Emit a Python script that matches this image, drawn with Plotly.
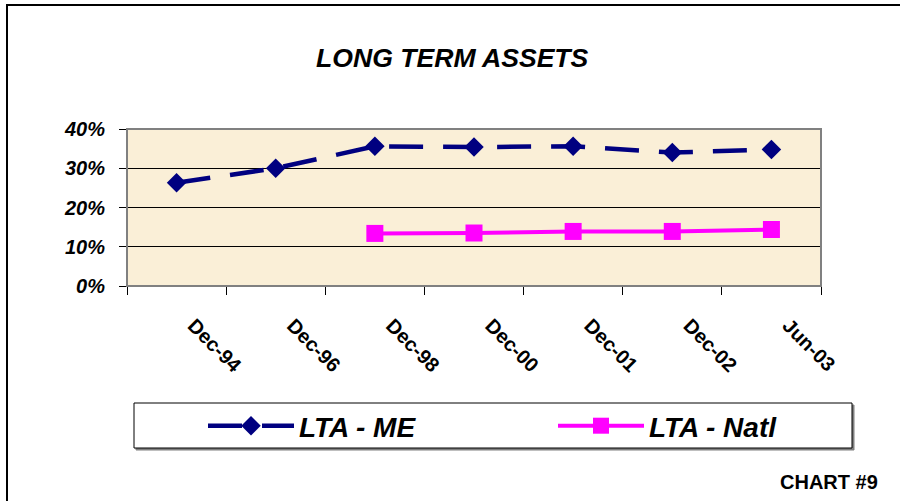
import plotly.graph_objects as go

categories = ["Dec-94", "Dec-96", "Dec-98", "Dec-00", "Dec-01", "Dec-02", "Jun-03"]
lta_me = [0.263, 0.300, 0.356, 0.354, 0.356, 0.340, 0.348]
lta_natl = [None, None, 0.134, 0.135, 0.139, 0.139, 0.144]
y_ticks = [0, 0.1, 0.2, 0.3, 0.4]

W, H = 900, 501
L, R, T, B = 127, 821, 129, 286  # plot area pixel box
pw, ph = R - L, B - T

def px(x):
    return (x - L) / pw

def py(y):
    return (B - y) / ph

FONT = "Liberation Sans, Arial, sans-serif"
LEG_FONT = dict(family=FONT, size=28, color="#000000", weight="bold", style="italic")

fig = go.Figure()
fig.add_trace(go.Scatter(
    x=categories, y=lta_me, name="LTA - ME", mode="lines+markers",
    line=dict(color="#000080", width=4.5, dash="34px,20px"),
    marker=dict(symbol="diamond", size=15, color="#000080", line=dict(width=0)),
    legend="legend",
))
fig.add_trace(go.Scatter(
    x=categories, y=lta_natl, name="LTA - Natl", mode="lines+markers",
    line=dict(color="#FF00FF", width=4),
    marker=dict(symbol="square", size=17, color="#FF00FF", line=dict(width=0)),
    legend="legend2",
))

shapes = [
    # outer frame
    dict(type="rect", xref="paper", yref="paper", x0=px(7), y0=py(5), x1=px(910), y1=py(520),
         line=dict(color="#000000", width=2), layer="below"),
    # plot area border
    dict(type="rect", xref="paper", yref="paper", x0=0, y0=0, x1=1, y1=1,
         line=dict(color="#808080", width=2), layer="above"),
    # legend box shadow
    dict(type="rect", xref="paper", yref="paper", x0=px(136), y0=py(405), x1=px(854), y1=py(450),
         line=dict(color="#808080", width=1), fillcolor="#808080", layer="below"),
    # legend box
    dict(type="rect", xref="paper", yref="paper", x0=px(134), y0=py(403), x1=px(852), y1=py(448),
         line=dict(color="#000000", width=1), fillcolor="#FFFFFF", layer="below"),
]

annotations = [
    dict(text="LONG TERM ASSETS", xref="paper", yref="paper", x=px(452.5), y=py(58),
         xanchor="center", yanchor="middle", showarrow=False,
         font=dict(family=FONT, size=26.6, color="#000000", weight="bold", style="italic")),
    dict(text="CHART #9", xref="paper", yref="paper", x=px(829), y=py(482),
         xanchor="center", yanchor="middle", showarrow=False,
         font=dict(family=FONT, size=20, color="#000000", weight="bold")),
]

fig.update_layout(
    width=W, height=H,
    margin=dict(l=L, r=W - R, t=T, b=H - B, pad=0),
    paper_bgcolor="#FFFFFF",
    plot_bgcolor="#FAEFD7",
    shapes=shapes,
    annotations=annotations,
    showlegend=True,
    legend=dict(
        orientation="h", x=px(203), y=py(426), xanchor="left", yanchor="middle",
        bgcolor="rgba(0,0,0,0)", borderwidth=0, itemwidth=86, font=LEG_FONT,
    ),
    legend2=dict(
        orientation="h", x=px(553), y=py(426), xanchor="left", yanchor="middle",
        bgcolor="rgba(0,0,0,0)", borderwidth=0, itemwidth=86, font=LEG_FONT,
    ),
    xaxis=dict(
        type="category", categoryorder="array", categoryarray=categories,
        range=[-0.5, len(categories) - 0.5],
        showgrid=False, showline=True, linecolor="#000000", linewidth=1,
        ticks="outside", tickson="boundaries", ticklen=8, tickcolor="#000000",
        tickangle=45, ticklabelstandoff=19, ticklabelshift=17,
        tickfont=dict(family=FONT, size=20, color="#000000", weight="bold"),
        zeroline=False, fixedrange=True,
    ),
    yaxis=dict(
        range=[0, 0.4], tickvals=y_ticks, tickformat=".0%",
        showgrid=True, gridcolor="#000000", gridwidth=1,
        showline=True, linecolor="#000000", linewidth=1,
        ticks="outside", ticklen=7, tickcolor="#000000", ticklabelstandoff=10,
        tickfont=dict(family=FONT, size=20, color="#000000", weight="bold", style="italic"),
        zeroline=False, fixedrange=True,
    ),
)

fig.write_html("out.html")
